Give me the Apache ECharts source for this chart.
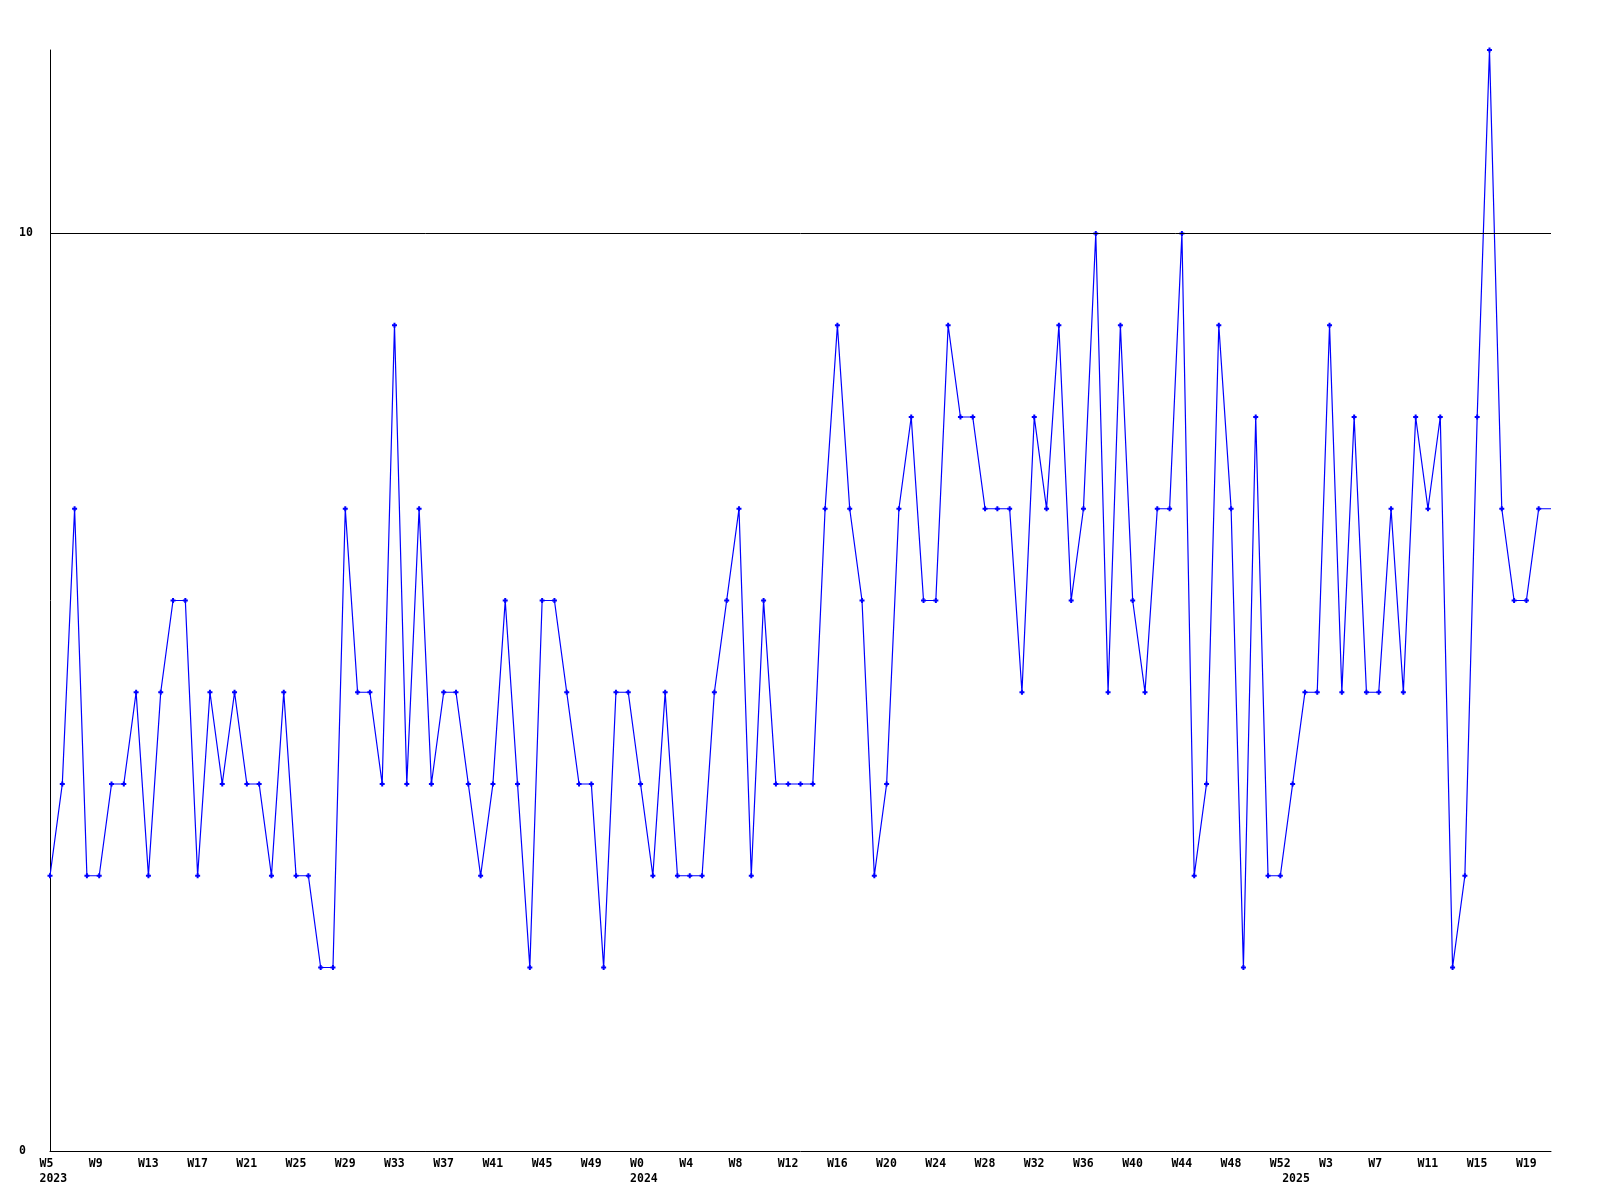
<!DOCTYPE html>
<html>
<head>
<meta charset="utf-8">
<script src="https://cdn.jsdelivr.net/npm/echarts@6/dist/echarts.min.js"></script>
<style>
  html, body { margin: 0; padding: 0; background: #ffffff; }
  #chart { width: 1600px; height: 1200px; }
</style>
</head>
<body>
<div id="chart"></div>
<script>
// ---- data ----
const weeks2023 = [5,6,7,8,9,10,11,12,13,14,15,16,17,18,19,20,21,22,23,24,25,26,27,28,29,30,31,32,33,34,35,36,37,38,39,40,41,42,43,44,45,46,47,48,49,50,51,52];
const weeks2024 = [0,1,2,3,4,5,6,7,8,9,10,11,12,13,14,15,16,17,18,19,20,21,22,23,24,25,26,27,28,29,30,31,32,33,34,35,36,37,38,39,40,41,42,43,44,45,46,47,48,49,50,51,52];
const weeks2025 = [0,1,2,3,4,5,6,7,8,9,10,11,12,13,14,15,16,17,18,19,20,21];

const values2023 = [3,4,7,3,3,4,4,5,3,5,6,6,3,5,4,5,4,4,3,5,3,3,2,2,7,5,5,4,9,4,7,4,5,5,4,3,4,6,4,2,6,6,5,4,4,2,5,5];
const values2024 = [4,3,5,3,3,3,5,6,7,3,6,4,4,4,4,7,9,7,6,3,4,7,8,6,6,9,8,8,7,7,7,5,8,7,9,6,7,10,5,9,6,5,7,7,10,3,4,9,7,2,8,3,3];
const values2025 = [4,5,5,9,5,8,5,5,7,5,8,7,8,2,3,8,12,7,6,6,7,7];

const yTickLabels = [0, 10];
const thresholdValue = 10;
const yMax = 12;

// ---- build categories ----
const categories = [];
const yearOfIndex = [];
[[2023, weeks2023], [2024, weeks2024], [2025, weeks2025]].forEach(([yr, wk]) => {
  wk.forEach((w, k) => { categories.push('W' + w); yearOfIndex.push(k === 0 ? String(yr) : ''); });
});
const values = values2023.concat(values2024, values2025);
const lastIndex = values.length - 1;

const FONT = 'DejaVu Sans Mono';
const plusPath = 'path://M1.5,0H3.5V1.5H5V3.5H3.5V5H1.5V3.5H0V1.5H1.5Z';

const chart = echarts.init(document.getElementById('chart'), null, { renderer: 'canvas' });
chart.setOption({
  backgroundColor: '#ffffff',
  animation: false,
  grid: { left: 50, right: 49, top: 50, bottom: 49, containLabel: false },
  xAxis: {
    type: 'category',
    data: categories,
    boundaryGap: false,
    axisLine: { show: true, lineStyle: { color: '#000000', width: 1 } },
    axisTick: { show: false },
    splitLine: { show: false },
    axisLabel: {
      show: true,
      interval: (idx) => idx % 4 === 0 || yearOfIndex[idx] !== '',
      margin: 5,
      align: 'center',
      formatter: (val, idx) => {
        const top = idx % 4 === 0 ? val : ' ';
        const yr = yearOfIndex[idx];
        return yr ? '{w|' + top + '}\n{w|' + yr + '}' : '{w|' + top + '}';
      },
      rich: {
        w: { width: 21, align: 'left', fontFamily: FONT, fontSize: 11.5, fontWeight: 'bold', color: '#000000', lineHeight: 15.5 }
      }
    }
  },
  yAxis: {
    type: 'value',
    min: 0,
    max: yMax,
    interval: 10,
    axisLine: { show: true, lineStyle: { color: '#000000', width: 1 } },
    axisTick: { show: false },
    splitLine: { show: false },
    axisLabel: {
      show: true,
      margin: 31,
      align: 'left',
      fontFamily: FONT,
      fontSize: 11.5,
      fontWeight: 'bold',
      color: '#000000',
      formatter: (v) => yTickLabels.indexOf(v) >= 0 ? String(v) : ''
    }
  },
  series: [{
    type: 'line',
    data: values,
    symbol: (val, params) => params.dataIndex === lastIndex ? 'none' : plusPath,
    symbolSize: 5,
    showAllSymbol: true,
    lineStyle: { color: '#0000ff', width: 1.2 },
    itemStyle: { color: '#0000ff', borderWidth: 0 },
    emphasis: { disabled: true },
    markLine: {
      silent: true,
      symbol: 'none',
      label: { show: false },
      lineStyle: { color: '#000000', width: 1, type: 'solid' },
      data: [{ yAxis: thresholdValue }]
    },
    z: 3
  }]
});
</script>
</body>
</html>
